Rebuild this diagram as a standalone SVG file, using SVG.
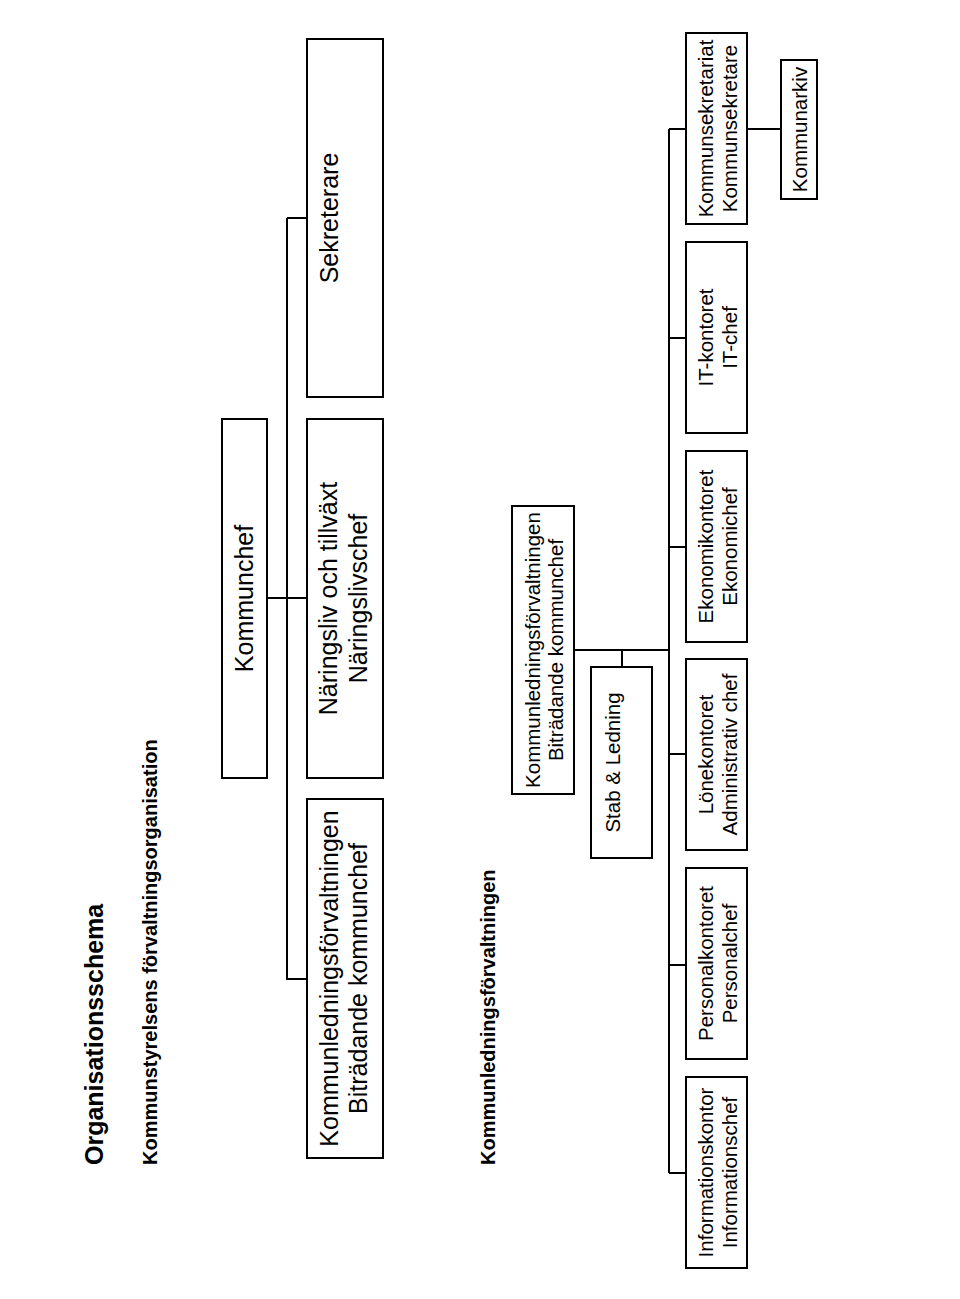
<svg xmlns="http://www.w3.org/2000/svg" width="960" height="1299" viewBox="0 0 960 1299">
<style>
.box{fill:#fff;stroke:#000;stroke-width:2}
.con{fill:none;stroke:#000;stroke-width:2}
.t{font-family:"Liberation Sans",Arial,sans-serif;fill:#000;text-anchor:middle}
.big{font-size:25px}
.sm{font-size:20.5px}
.h{font-family:"Liberation Sans",Arial,sans-serif;font-weight:bold;fill:#000;text-anchor:start}
</style>
<rect width="960" height="1299" fill="#fff"/>
<g id="titles">
<text class="h" font-size="25" transform="translate(103,1165) rotate(-90)">Organisationsschema</text>
<text class="h" font-size="20" transform="translate(157,1165) rotate(-90)">Kommunstyrelsens förvaltningsorganisation</text>
<text class="h" font-size="20" transform="translate(495,1165) rotate(-90)">Kommunledningsförvaltningen</text>
</g>
<g id="connectors">
<path class="con" d="M287,218 H307 M287,218 V979 H307 M267,598 H307"/>
<path class="con" d="M574,650 H669 M622,650 V667 M669,129 V1173"/>
<path class="con" d="M669,129 H686 M669,338 H686 M669,547 H686 M669,754 H686 M669,965 H686 M669,1173 H686 M747,129 H781"/>
</g>
<g id="kommunchef">
<rect class="box" x="222" y="419" width="45" height="359"/>
<text class="t big" transform="translate(253,598.5) rotate(-90)">Kommunchef</text>
</g>
<g id="sekreterare">
<rect class="box" x="307" y="39" width="76" height="358"/>
<text class="t big" transform="translate(338,218) rotate(-90)">Sekreterare</text>
</g>
<g id="naringsliv">
<rect class="box" x="307" y="419" width="76" height="359"/>
<text class="t big" transform="translate(337,598.5) rotate(-90)">Näringsliv och tillväxt</text>
<text class="t big" transform="translate(367,598.5) rotate(-90)">Näringslivschef</text>
</g>
<g id="klf-top">
<rect class="box" x="307" y="799" width="76" height="359"/>
<text class="t big" transform="translate(338,978.5) rotate(-90)">Kommunledningsförvaltningen</text>
<text class="t big" transform="translate(367,978.5) rotate(-90)">Biträdande kommunchef</text>
</g>
<g id="klf">
<rect class="box" x="512" y="506" width="62" height="288"/>
<text class="t sm" transform="translate(540,650) rotate(-90)">Kommunledningsförvaltningen</text>
<text class="t sm" transform="translate(563,650) rotate(-90)">Biträdande kommunchef</text>
</g>
<g id="stab">
<rect class="box" x="591" y="667" width="61" height="191"/>
<text class="t sm" transform="translate(620,762.5) rotate(-90)">Stab &amp; Ledning</text>
</g>
<g id="kommunsekretariat">
<rect class="box" x="686" y="33" width="61" height="191"/>
<text class="t sm" transform="translate(713,128.5) rotate(-90)">Kommunsekretariat</text>
<text class="t sm" transform="translate(737,128.5) rotate(-90)">Kommunsekretare</text>
</g>
<g id="kommunarkiv">
<rect class="box" x="781" y="60" width="36" height="139"/>
<text class="t sm" transform="translate(807,129.5) rotate(-90)">Kommunarkiv</text>
</g>
<g id="it">
<rect class="box" x="686" y="242" width="61" height="191"/>
<text class="t sm" transform="translate(713,337.5) rotate(-90)">IT-kontoret</text>
<text class="t sm" transform="translate(737,337.5) rotate(-90)">IT-chef</text>
</g>
<g id="ekonomi">
<rect class="box" x="686" y="451" width="61" height="191"/>
<text class="t sm" transform="translate(713,546.5) rotate(-90)">Ekonomikontoret</text>
<text class="t sm" transform="translate(737,546.5) rotate(-90)">Ekonomichef</text>
</g>
<g id="lone">
<rect class="box" x="686" y="659" width="61" height="191"/>
<text class="t sm" transform="translate(713,754.5) rotate(-90)">Lönekontoret</text>
<text class="t sm" transform="translate(737,754.5) rotate(-90)">Administrativ chef</text>
</g>
<g id="personal">
<rect class="box" x="686" y="868" width="61" height="191"/>
<text class="t sm" transform="translate(713,963.5) rotate(-90)">Personalkontoret</text>
<text class="t sm" transform="translate(737,963.5) rotate(-90)">Personalchef</text>
</g>
<g id="information">
<rect class="box" x="686" y="1077" width="61" height="191"/>
<text class="t sm" transform="translate(713,1172.5) rotate(-90)">Informationskontor</text>
<text class="t sm" transform="translate(737,1172.5) rotate(-90)">Informationschef</text>
</g>
</svg>
